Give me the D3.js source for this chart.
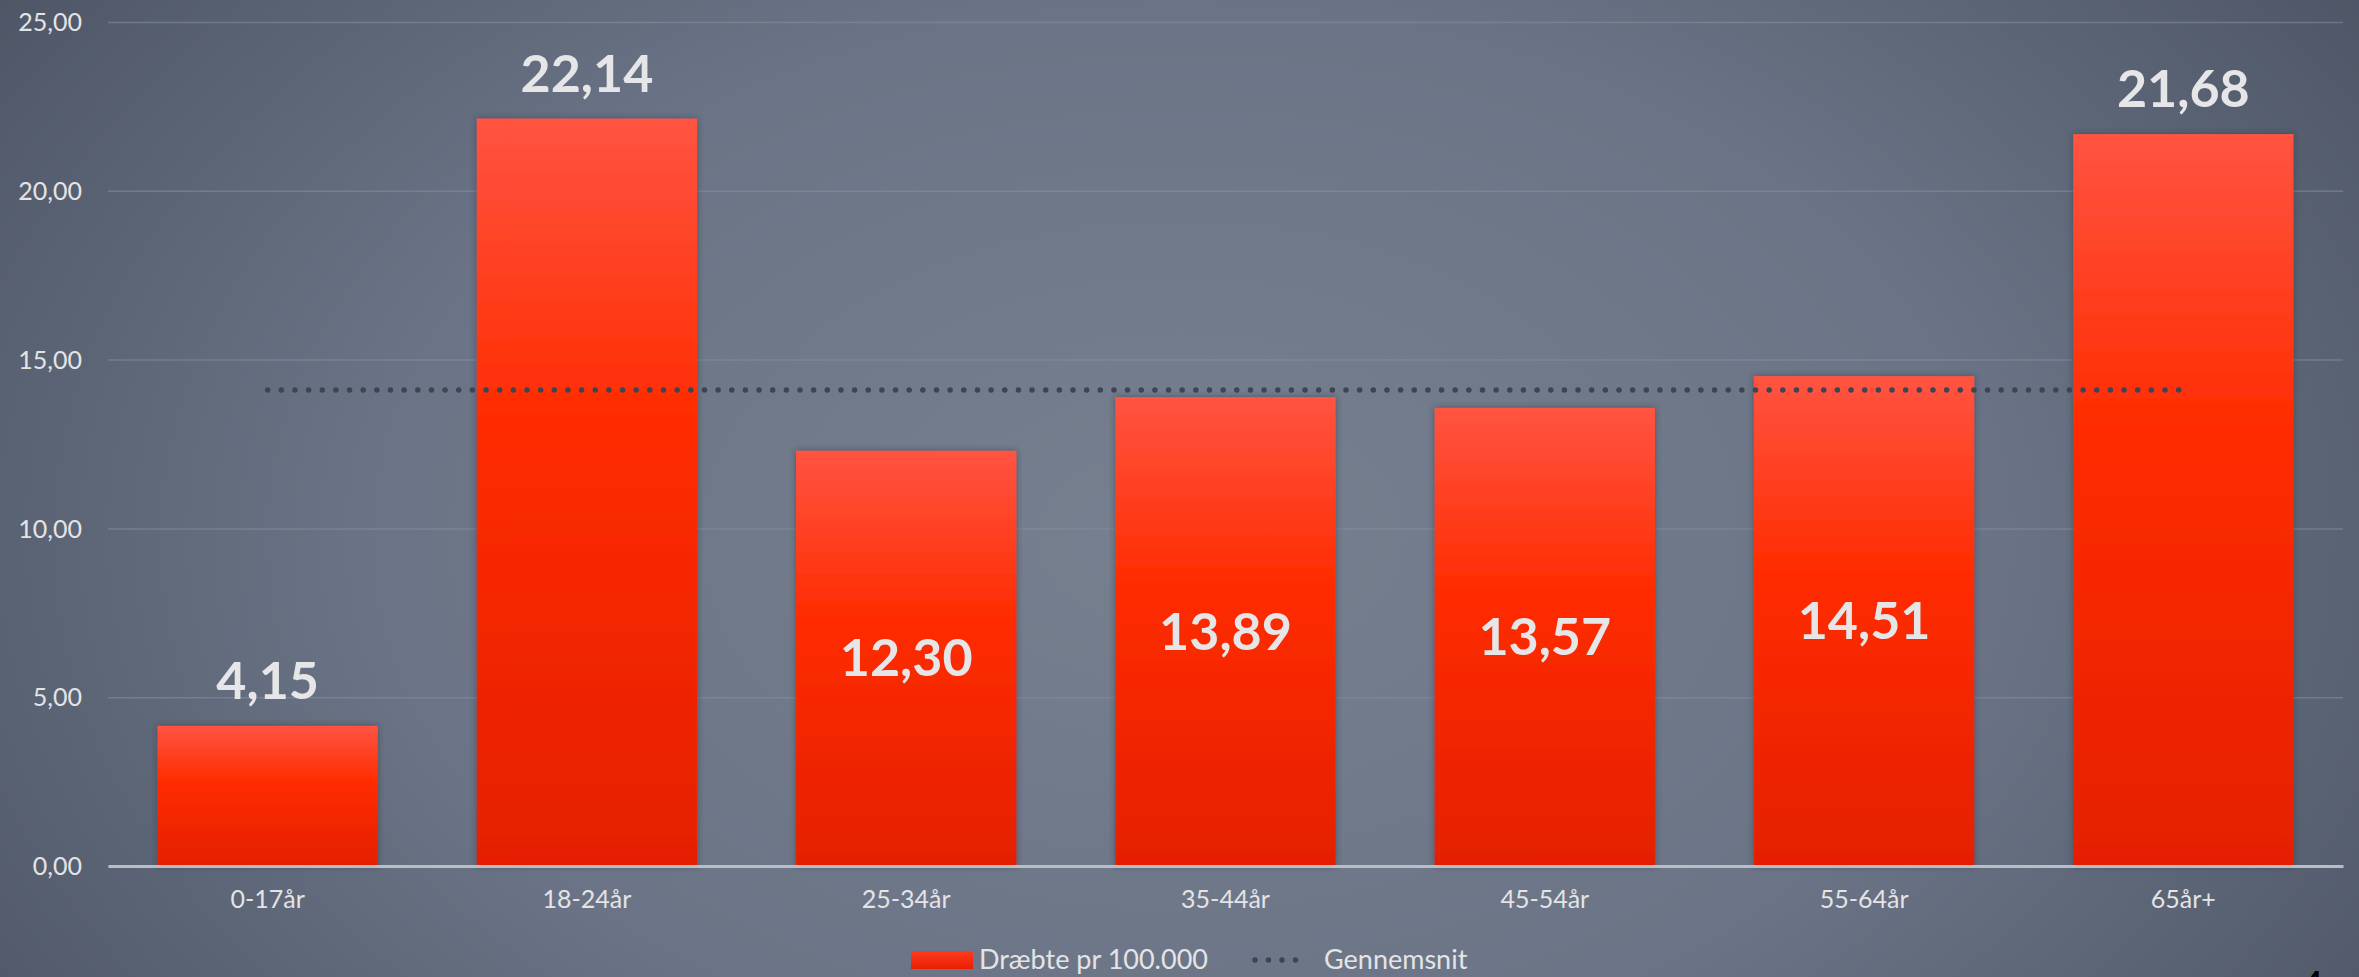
<!DOCTYPE html>
<html>
<head>
<meta charset="utf-8">
<script src="https://cdn.jsdelivr.net/npm/d3@7"></script>
<style>
  html, body { margin: 0; padding: 0; background: #5f6879; }
  svg { display: block; }
</style>
</head>
<body>
<svg id="chart" width="2359" height="977"></svg>
<script>
// ---- data ----
const categories = ["0-17år", "18-24år", "25-34år", "35-44år", "45-54år", "55-64år", "65år+"];
const killedPer100k = [4.15, 22.14, 12.30, 13.89, 13.57, 14.51, 21.68];
const averageValues = [14.1, 14.1, 14.1, 14.1, 14.1, 14.1, 14.1];
const labelInside = [false, false, true, true, true, true, false];
const yTicks = [0, 5, 10, 15, 20, 25];
const seriesNames = ["Dræbte pr 100.000", "Gennemsnit"];

const W = 2359, H = 977;
const margin = { left: 108, right: 16, top: 22, bottom: 111 };
const svg = d3.select("#chart");
const defs = svg.append("defs");

// background gradient
const bg = defs.append("radialGradient").attr("id", "bg")
  .attr("cx", "50%").attr("cy", "55%").attr("r", "62%")
  .attr("gradientTransform", "translate(0.5,0.55) scale(1,1.6) translate(-0.5,-0.55)");
bg.append("stop").attr("offset", "0%").attr("stop-color", "#76808f");
bg.append("stop").attr("offset", "55%").attr("stop-color", "#6a7486");
bg.append("stop").attr("offset", "100%").attr("stop-color", "#4d5565");
svg.append("rect").attr("width", W).attr("height", H).attr("fill", "url(#bg)");

// bar gradient
const bg2 = defs.append("linearGradient").attr("id", "barGrad")
  .attr("x1", 0).attr("y1", 0).attr("x2", 0).attr("y2", 1);
bg2.append("stop").attr("offset", "0%").attr("stop-color", "#ff5442");
bg2.append("stop").attr("offset", "40%").attr("stop-color", "#ff2c00");
bg2.append("stop").attr("offset", "100%").attr("stop-color", "#e41f00");

const legGrad = defs.append("linearGradient").attr("id", "legGrad")
  .attr("x1", 0).attr("y1", 0).attr("x2", 0).attr("y2", 1);
legGrad.append("stop").attr("offset", "0%").attr("stop-color", "#ff3a20");
legGrad.append("stop").attr("offset", "100%").attr("stop-color", "#e82000");

const shadow = defs.append("filter").attr("id", "shadow")
  .attr("x", "-10%").attr("y", "-10%").attr("width", "120%").attr("height", "120%");
shadow.append("feDropShadow").attr("dx", 0).attr("dy", 0).attr("stdDeviation", 3)
  .attr("flood-color", "#2a3040").attr("flood-opacity", 0.55);

const x = d3.scaleBand().domain(categories)
  .range([margin.left, W - margin.right]).paddingInner(0.31).paddingOuter(0.155);
const xc = d3.scalePoint().domain(categories)
  .range([margin.left, W - margin.right]).padding(0.5);
const y = d3.scaleLinear().domain([0, 25]).range([H - margin.bottom, margin.top]);

const font = "Lato, 'Open Sans', 'DejaVu Sans', sans-serif";
const fmt = v => d3.format(".2f")(v).replace(".", ",");

// gridlines + y labels
const yAxis = d3.axisLeft(y).tickValues(yTicks).tickFormat(fmt)
  .tickSize(-(W - margin.left - margin.right)).tickPadding(26);
const gy = svg.append("g").attr("transform", `translate(${margin.left},0)`).call(yAxis);
gy.select(".domain").remove();
gy.selectAll(".tick line").attr("stroke", "#8790a0").attr("stroke-opacity", 0.55).attr("stroke-width", 1.5);
gy.selectAll(".tick text").attr("fill", "#e4e4e6").attr("font-family", font)
  .attr("font-size", 25).attr("dy", "0.35em");

// bars
svg.append("g").selectAll("rect").data(killedPer100k).join("rect")
  .attr("x", (d, i) => x(categories[i]))
  .attr("y", d => y(d))
  .attr("width", x.bandwidth())
  .attr("height", d => y(0) - y(d))
  .attr("fill", "url(#barGrad)")
  .attr("filter", "url(#shadow)");

// x axis
const xAxis = d3.axisBottom(x).tickSize(0).tickPadding(24);
const gx = svg.append("g").attr("transform", `translate(0,${y(0)})`).call(xAxis);
gx.select(".domain").attr("stroke", "#b8bdc6").attr("stroke-width", 3);
gx.selectAll(".tick text").attr("fill", "#e4e4e6").attr("font-family", font).attr("font-size", 25);

// average dotted line
const line = d3.line().x((d, i) => xc(categories[i])).y(d => y(d));
svg.append("path").datum(averageValues).attr("d", line)
  .attr("fill", "none").attr("stroke", "#3e4452").attr("stroke-width", 5.5)
  .attr("stroke-linecap", "round").attr("stroke-dasharray", "0,13.65");

// value labels
svg.append("g").selectAll("text").data(killedPer100k).join("text")
  .attr("x", (d, i) => xc(categories[i]))
  .attr("y", (d, i) => labelInside[i] ? (y(d) + y(0)) / 2 + 18 : y(d) - 27)
  .attr("text-anchor", "middle")
  .attr("font-family", font).attr("font-weight", "bold").attr("font-size", 52)
  .attr("fill", "#e6e6e8")
  .text(d => fmt(d));

// legend
const lg = svg.append("g");
lg.append("rect").attr("x", 911).attr("y", 951).attr("width", 62).attr("height", 18)
  .attr("fill", "url(#legGrad)");
lg.append("text").attr("x", 979).attr("y", 969).attr("font-family", font).attr("font-size", 27)
  .attr("fill", "#e4e4e6").text(seriesNames[0]);
lg.append("line").attr("x1", 1255).attr("x2", 1309).attr("y1", 960).attr("y2", 960)
  .attr("stroke", "#3e4452").attr("stroke-width", 5.5).attr("stroke-linecap", "round")
  .attr("stroke-dasharray", "0,13.5");
lg.append("text").attr("x", 1324).attr("y", 969).attr("font-family", font).attr("font-size", 27)
  .attr("fill", "#e4e4e6").text(seriesNames[1]);

// page number (cut off at bottom edge)
svg.append("text").attr("x", 2300).attr("y", 1002).attr("font-family", font)
  .attr("font-size", 42).attr("fill", "#000").text("4");
</script>
</body>
</html>
